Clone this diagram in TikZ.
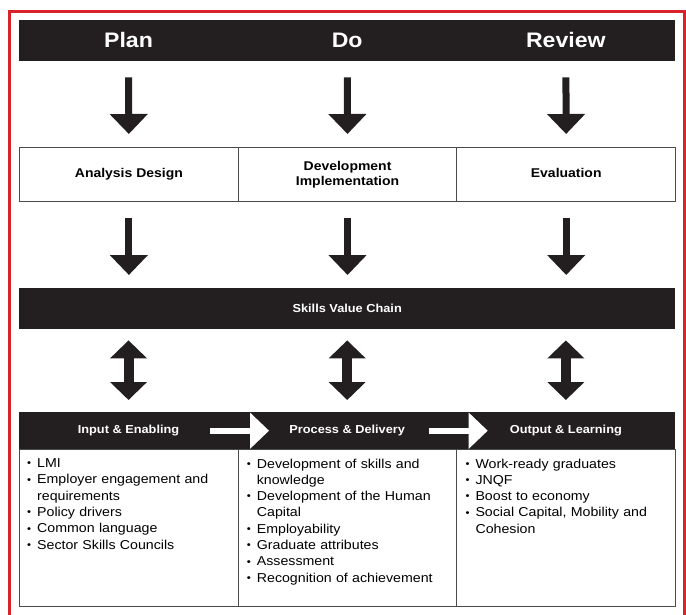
\documentclass[tikz,border=0pt]{standalone}
\usepackage{fontspec}
\setmainfont{Liberation Sans}[FakeStretch=1.1]
\usetikzlibrary{arrows.meta}

\definecolor{noir}{HTML}{231F20}
\definecolor{rouge}{HTML}{D9232A}
\definecolor{trait}{HTML}{4A4A4C}

% PUCES
\newcommand{\itm}{\makebox[10pt][l]{\raisebox{0.1ex}{\scalebox{0.8}{\textbullet}}}}
\newcommand{\cnt}{\hspace*{10pt}}

\tikzset{
  barre/.style={fill=noir, text=white, inner sep=0pt, anchor=north west,
    minimum width=218.67pt, font=\bfseries\fontsize{11.6}{14}\selectfont},
  titre/.style={barre, minimum height=41pt, text height=15pt, text depth=2pt,
    font=\bfseries\fontsize{21}{24}\selectfont},
  case/.style={draw=trait, line width=1.1pt, inner sep=0pt, anchor=north west,
    minimum width=218.67pt, align=center, font=\bfseries\fontsize{12.7}{15}\selectfont},
  ligne/.style={text height=9pt, text depth=3pt},
  liste/.style={inner sep=0pt, anchor=north west, text width=205pt, align=left,
    font=\fontsize{12.9}{16.3}\selectfont},
  fleche/.style={noir, line width=7pt, shorten <=16pt, shorten >=13pt,
    -{Triangle[width=37pt,length=20pt]}},
  dfleche/.style={noir, line width=10pt, shorten <=11pt, shorten >=12pt,
    {Triangle[width=36pt,length=18pt]}-{Triangle[width=36pt,length=18pt]}},
  bfleche/.style={white, line width=6pt, -{Triangle[width=35pt,length=19pt]}}
}

\begin{document}
\begin{tikzpicture}[x=1pt, y=-1pt]
  \useasboundingbox (0,0) rectangle (686,615);

  % CADRE
  \draw[rouge, line width=2.5pt] (9.5,615) |- (684.5,11.5) -- (684.5,615);

  % BANDEAU DU HAUT
  \node[titre] (plan) at (19,20) {Plan};
  \node[titre] (do) at (237.67,20) {Do};
  \node[titre] (review) at (456.33,20) {Review};

  % ETAPES
  \node[case, ligne, minimum height=54pt] (anal) at (19,147) {Analysis Design};
  \node[case, minimum height=54pt] (dev) at (237.67,147) {Development\\Implementation};
  \node[case, ligne, minimum height=54pt] (eval) at (456.33,147) {Evaluation};

  % CHAINE
  \node[barre, minimum width=656pt, minimum height=41pt] (chain) at (19,288) {Skills Value Chain};

  % CASES DU BAS
  \node[case, minimum height=157pt] (c1) at (19,449) {};
  \node[case, minimum height=157pt] (c2) at (237.67,449) {};
  \node[case, minimum height=157pt] (c3) at (456.33,449) {};

  \node[barre, minimum height=37pt] (inp) at (19,412) {Input \& Enabling};
  \node[barre, minimum height=37pt] (proc) at (237.67,412) {Process \& Delivery};
  \node[barre, minimum height=37pt] (outp) at (456.33,412) {Output \& Learning};

  % FLECHES
  \draw[fleche] (plan.south) -- (anal.north);
  \draw[fleche] (do.south) -- (dev.north);
  \draw[fleche] (review.south) -- (eval.north);
  \draw[fleche] (anal.south) -- (chain.north -| anal.south);
  \draw[fleche] (dev.south) -- (chain.north -| dev.south);
  \draw[fleche] (eval.south) -- (chain.north -| eval.south);

  \draw[dfleche] (chain.south -| inp.north) -- (inp.north);
  \draw[dfleche] (chain.south -| proc.north) -- (proc.north);
  \draw[dfleche] (chain.south -| outp.north) -- (outp.north);

  \draw[bfleche] ([xshift=-28pt]inp.east) -- ([xshift=31pt]inp.east);
  \draw[bfleche] ([xshift=-28pt]proc.east) -- ([xshift=31pt]proc.east);

  % LISTES
  \node[liste] (l1) at ([xshift=8pt, yshift=-9.5pt]c1.north west) {%
    \itm LMI\\
    \itm Employer engagement and\\
    \cnt requirements\\
    \itm Policy drivers\\
    \itm Common language\\
    \itm Sector Skills Councils};
  \node[liste] (l2) at ([xshift=9pt, yshift=-9.5pt]c2.north west) {%
    \itm Development of skills and\\
    \cnt knowledge\\
    \itm Development of the Human\\
    \cnt Capital\\
    \itm Employability\\
    \itm Graduate attributes\\
    \itm Assessment\\
    \itm Recognition of achievement};
  \node[liste] (l3) at ([xshift=9pt, yshift=-9.5pt]c3.north west) {%
    \itm Work-ready graduates\\
    \itm JNQF\\
    \itm Boost to economy\\
    \itm Social Capital, Mobility and\\
    \cnt Cohesion};
\end{tikzpicture}
\end{document}
